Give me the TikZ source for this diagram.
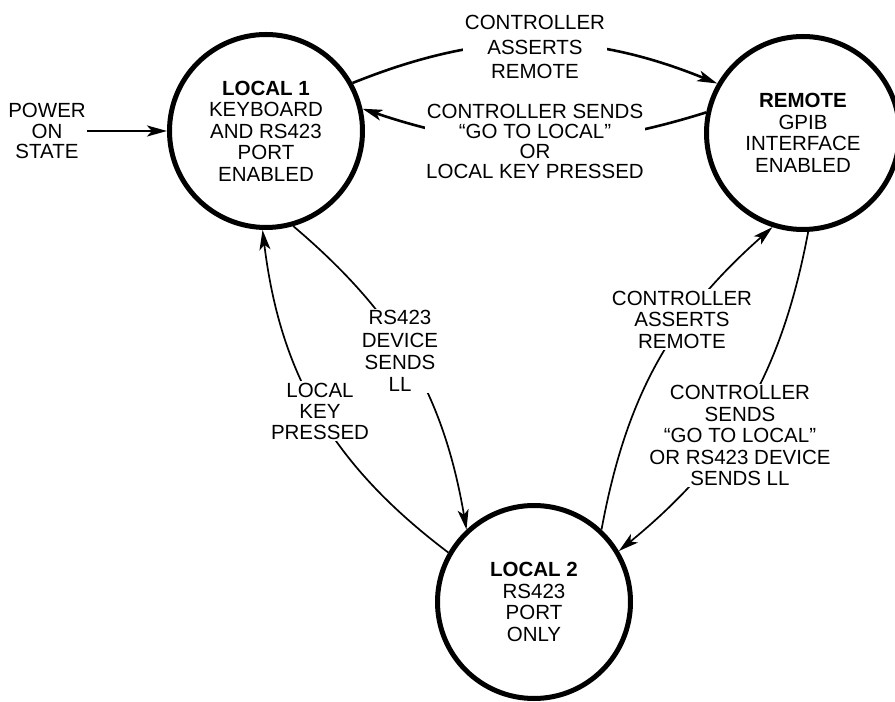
\documentclass[tikz,border=0pt]{standalone}
\usepackage{fontspec}
\setmainfont{Liberation Sans}
\usetikzlibrary{arrows.meta}
\begin{document}
\begin{tikzpicture}[x=1pt,y=1pt,
  state/.style={circle,draw,line width=5pt,minimum size=193pt,inner sep=0pt,align=center,font=\fontsize{20.5}{21.5}\selectfont},
  lbl/.style={align=center,fill=white,inner sep=1.5pt,font=\fontsize{20.5}{21.5}\selectfont},
  tipend/.style={-{Stealth[length=20pt,width=11pt,inset=5pt]}},
  thickc/.style={tipend,line width=2.6pt},
  thinc/.style={tipend,line width=1.7pt}]
\useasboundingbox (0,0) rectangle (895,702);
\fill[white] (0,0) rectangle (895,702);
\node[state] (L1) at (266,571) {\textbf{LOCAL 1}\\KEYBOARD\\AND RS423\\PORT\\ENABLED};
\node[state] (R) at (803,569) {\textbf{REMOTE}\\GPIB\\INTERFACE\\ENABLED};
\node[state] (L2) at (534,100) {\textbf{LOCAL 2}\\RS423\\PORT\\ONLY};
\node[lbl,font=\fontsize{20.5}{20.5}\selectfont] (pw) at (47,571) {POWER\\ON\\STATE};
\draw[thickc] (pw.east) -- (L1.west);
\draw[thickc] (L1.29) to[bend left=22] (R.150);
\draw[thickc] (R.168) to[bend left=18] (L1.13);
\draw[thinc] (L1.-74) to[bend left=20] (L2.133);
\draw[thinc] (L2.150) to[bend left=23] (L1.-92);
\draw[thinc] (L2.47) to[bend left=19] (R.-108);
\draw[thinc] (R.-87) to[bend left=20] (L2.31);
\node[lbl,font=\fontsize{20.5}{24.5}\selectfont] (t1) at (535,655) {CONTROLLER\\ASSERTS\\REMOTE};
\node[lbl,font=\fontsize{20.5}{20}\selectfont] (t2) at (535,560.5) {CONTROLLER SENDS\\“GO TO LOCAL”\\OR\\LOCAL KEY PRESSED};
\node[lbl,font=\fontsize{20.5}{22.3}\selectfont] (t3) at (400,351) {RS423\\DEVICE\\SENDS\\LL};
\node[lbl,font=\fontsize{20.5}{21}\selectfont] (t4) at (320,291) {LOCAL\\KEY\\PRESSED};
\node[lbl] (t5) at (682,382.5) {CONTROLLER\\ASSERTS\\REMOTE};
\node[lbl] (t6) at (740,266.5) {CONTROLLER\\SENDS\\“GO TO LOCAL”\\OR RS423 DEVICE\\SENDS LL};
\end{tikzpicture}
\end{document}
